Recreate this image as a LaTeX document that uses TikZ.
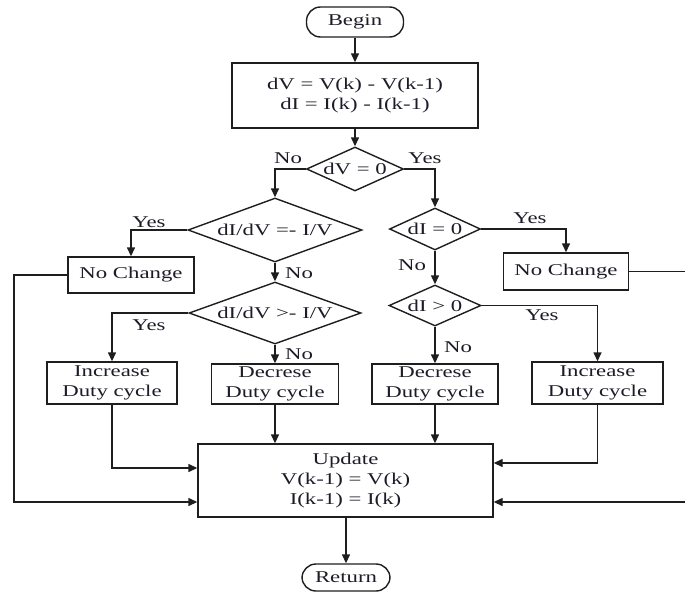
\documentclass[tikz,border=0pt]{standalone}
\usepackage{fontspec}
\setmainfont{Liberation Serif}[FakeStretch=1.38]
\usetikzlibrary{arrows.meta,shapes.geometric}
\definecolor{ink}{RGB}{28,28,40}
\definecolor{wire}{RGB}{30,30,30}
\tikzset{
  base/.style={draw=wire, line width=1.4pt, text=ink, inner sep=0pt, align=center,
    font=\fontsize{16.5}{20}\selectfont},
  procbox/.style={base, rectangle},
  termbox/.style={base, rectangle, rounded corners=14pt},
  decision/.style={base, diamond},
  lbl/.style={text=ink, inner sep=0pt, font=\fontsize{16.5}{20}\selectfont},
  arr/.style={draw=wire, line width=1.4pt, -{Triangle[length=9pt,width=8pt]}},
  wireln/.style={draw=wire, line width=1.4pt}
}
\begin{document}
\begin{tikzpicture}[x=1pt, y=-1pt]
\useasboundingbox (0,0) rectangle (685,592);

% top of the flow
\node[termbox, minimum width=97, minimum height=30] (begin) at (355,22) {Begin};
\node[procbox, minimum width=246, minimum height=65] (calc) at (355,95.5)
  {dV = V(k) - V(k-1)\\dI = I(k) - I(k-1)};
\node[decision, aspect=2.2, minimum width=97, minimum height=44] (dv) at (355,169) {dV = 0};

% left branch: dV /= 0
\node[decision, aspect=2.72, minimum width=174, minimum height=64] (eq) at (275,230) {dI/dV =- I/V};
\node[procbox, minimum width=126, minimum height=36] (ncl) at (131,275) {No Change};
\node[decision, aspect=2.77, minimum width=172, minimum height=62] (gt) at (275,313) {dI/dV >- I/V};
\node[procbox, minimum width=130, minimum height=42] (incl) at (112,383) {Increase\\Duty cycle};
\node[procbox, minimum width=127, minimum height=40] (decl) at (275,384) {Decrese\\Duty cycle};

% right branch: dV = 0
\node[decision, aspect=2.17, minimum width=91, minimum height=42] (di) at (435,229) {dI = 0};
\node[procbox, minimum width=125, minimum height=37] (ncr) at (566,271.5) {No Change};
\node[decision, aspect=2.24, minimum width=92, minimum height=41] (dp) at (435,305.5) {dI > 0};
\node[procbox, minimum width=126, minimum height=40] (decr) at (435,384) {Decrese\\Duty cycle};
\node[procbox, minimum width=131, minimum height=42] (incr) at (597.5,383) {Increase\\Duty cycle};

% bottom of the flow
\node[procbox, minimum width=295, minimum height=73] (upd) at (345.5,480.5)
  {Update\\V(k-1) = V(k)\\I(k-1) = I(k)};
\node[termbox, minimum width=88, minimum height=27] (ret) at (346,577.5) {Return};

% branch labels
\node[lbl] (l1) at (288,158) {No};
\node[lbl] (l2) at (425,158) {Yes};
\node[lbl] (l3) at (149,222) {Yes};
\node[lbl] (l4) at (299,273) {No};
\node[lbl] (l5) at (149,325) {Yes};
\node[lbl] (l6) at (299,354) {No};
\node[lbl] (l7) at (530,218) {Yes};
\node[lbl] (l8) at (412,265) {No};
\node[lbl] (l9) at (542,315) {Yes};
\node[lbl] (l10) at (458,347) {No};

% helper points for the return paths
\coordinate (yincl) at (0,468);
\coordinate (yincr) at (0,463);
\coordinate (lft) at (14,502);
\coordinate (rgt) at (700,502);

% connectors
\draw[arr] (begin) -- (calc);
\draw[arr] (calc) -- (dv);
\draw[arr] (dv.west) -| (eq.north);
\draw[arr] (dv.east) -| (di.north);
\draw[arr] (eq.west) -| (ncl.north);
\draw[arr] (eq) -- (gt);
\draw[arr] (gt.west) -| (incl.north);
\draw[arr] (gt) -- (decl);
\draw[arr] (di.east) -| (ncr.north);
\draw[arr] (di) -- (dp);
\draw[arr] (dp.east) -| (incr.north);
\draw[arr] (dp) -- (decr);

\draw[arr] (incl.south) |- (upd.west |- yincl);
\draw[arr] (decl.south) -- (decl.south |- upd.north);
\draw[arr] (decr.south) -- (decr.south |- upd.north);
\draw[arr] (incr.south) |- (upd.east |- yincr);
\draw[arr] (ncl.west) -| (lft) -- (upd.west |- lft);
\draw[arr] (ncr.east) -| (rgt) -- (upd.east |- rgt);
\draw[arr] (upd.south -| ret.north) -- (ret.north);
\end{tikzpicture}
\end{document}
